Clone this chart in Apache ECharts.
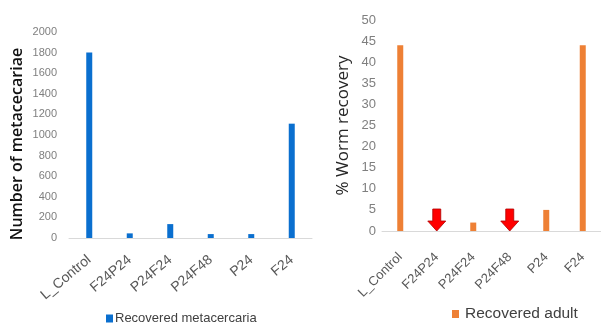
<!DOCTYPE html>
<html><head><meta charset="utf-8">
<script src="https://cdn.jsdelivr.net/npm/echarts@6/dist/echarts.min.js"></script>
<style>html,body{margin:0;padding:0;background:#fff}#c{width:601px;height:331px}</style>
</head><body><div id="c"></div>
<script>
const categories = ['L_Control','F24P24','P24F24','P24F48','P24','F24'];
const metacercariaValues = [1800, 45, 135, 38, 38, 1110];
const adultValues = [44, 0, 2, 0, 5, 44];
const arrowCategories = ['F24P24','P24F48'];
const leftTicks = {min:0, max:2000, interval:200};
const rightTicks = {min:0, max:50, interval:5};

const sans = "'Liberation Sans', sans-serif";
const chart = echarts.init(document.getElementById('c'));
chart.setOption({
  animation:false,
  backgroundColor:'#fff',
  grid:[
    {left:69, top:32, width:243, height:206},
    {left:382, top:20, width:234, height:211}
  ],
  xAxis:[
    {gridIndex:0, type:'category', data:categories,
     axisLine:{lineStyle:{color:'#d9d9d9'}}, axisTick:{show:false},
     axisLabel:{rotate:40, color:'#595959', fontSize:14, fontFamily:sans, margin:20, interval:0}},
    {gridIndex:1, type:'category', data:categories,
     axisLabel:{rotate:45, color:'#595959', fontSize:13, fontFamily:sans, margin:24, interval:0},
     axisLine:{lineStyle:{color:'#d9d9d9'}}, axisTick:{show:false}}
  ],
  yAxis:[
    {gridIndex:0, type:'value', min:leftTicks.min, max:leftTicks.max, interval:leftTicks.interval,
     splitLine:{show:false}, axisLine:{show:false}, axisTick:{show:false},
     axisLabel:{color:'#7f7f7f', fontSize:11, fontFamily:sans, margin:12, formatter: v => String(v)},
     name:'Number of metacecariae', nameLocation:'middle', nameGap:44,
     nameTextStyle:{color:'#111', fontSize:16, fontFamily:"'Open Sans', sans-serif", fontWeight:600, padding:[0,18,0,0]}},
    {gridIndex:1, type:'value', min:rightTicks.min, max:rightTicks.max, interval:rightTicks.interval,
     splitLine:{show:false}, axisLine:{show:false}, axisTick:{show:false},
     axisLabel:{color:'#7f7f7f', fontSize:13, fontFamily:sans, margin:6, formatter: v => String(v)},
     name:'% Worm recovery', nameLocation:'middle', nameGap:30,
     nameTextStyle:{color:'#262626', fontSize:17, fontFamily:"'Open Sans', sans-serif"}}
  ],
  legend:[
    {data:['Recovered metacercaria'], left:106, top:312, padding:0, itemWidth:7, itemHeight:8, itemGap:4,
     icon:'rect', textStyle:{color:'#404040', fontSize:13, fontFamily:sans, padding:[0,0,0,-3]}},
    {data:['Recovered adult'], left:452, top:306, padding:0, itemWidth:7, itemHeight:8,
     icon:'rect', textStyle:{color:'#404040', fontSize:15.5, fontFamily:sans, padding:[0,0,0,1]}}
  ],
  series:[
    {name:'Recovered metacercaria', type:'bar', xAxisIndex:0, yAxisIndex:0, data:metacercariaValues,
     barWidth:6, itemStyle:{color:'#0a6fcf'}},
    {name:'Recovered adult', type:'bar', xAxisIndex:1, yAxisIndex:1, data:adultValues,
     barWidth:6, itemStyle:{color:'#ee8035'},
     markPoint:{
       symbol:'path://M5,0 L13,0 L13,12 L18,12 L9,22 L0,12 L5,12 Z',
       symbolSize:[18,22], symbolOffset:[0,-11], symbolKeepAspect:false,
       label:{show:false}, silent:true,
       itemStyle:{color:'#ff0000', borderColor:'#b00000', borderWidth:0.8},
       data: arrowCategories.map(c => ({coord:[c, 0]}))
     }}
  ]
});
</script></body></html>
